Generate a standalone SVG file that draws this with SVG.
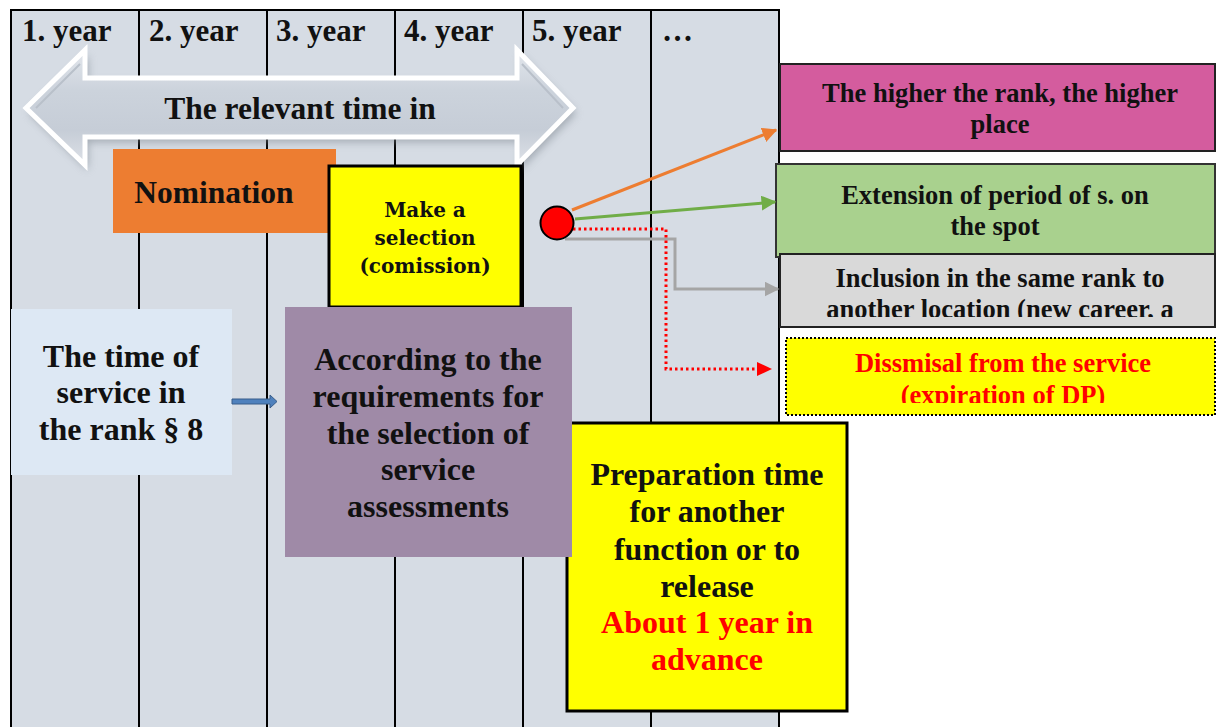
<svg xmlns="http://www.w3.org/2000/svg" width="1216" height="727" viewBox="0 0 1216 727">
  <style>
    .t { font-family: "Liberation Serif", "Times New Roman", serif; font-weight: bold; fill: #111; text-anchor: middle; }
    .hdr { font-family: "Liberation Serif", "Times New Roman", serif; font-weight: bold; font-size: 31px; fill: #111; }
    .big { font-size: 32px; }
    .mid { font-size: 26.5px; }
    .sel { font-family: "DejaVu Serif", "Liberation Serif", serif; font-weight: bold; font-size: 20px; fill: #111; text-anchor: middle; }
    .red { fill: #ff0000; }
    .col { stroke: #000; stroke-width: 2; }
    .conn { fill: none; stroke-width: 3; }
  </style>
  <defs>
    <linearGradient id="arrowFill" x1="0" y1="0" x2="0" y2="1">
      <stop offset="0" stop-color="#e2e6ec"/>
      <stop offset="0.35" stop-color="#ccd3dc"/>
      <stop offset="0.7" stop-color="#c6cdd7"/>
      <stop offset="1" stop-color="#dde1e7"/>
    </linearGradient>
    <filter id="soft" x="-10%" y="-30%" width="120%" height="160%">
      <feGaussianBlur stdDeviation="4"/>
    </filter>
    <marker id="mOrange" viewBox="0 0 10 10" refX="9" refY="5" markerWidth="5" markerHeight="5" orient="auto" markerUnits="strokeWidth">
      <path d="M0,0 L10,5 L0,10 Z" fill="#ed7d31"/>
    </marker>
    <marker id="mGreen" viewBox="0 0 10 10" refX="9" refY="5" markerWidth="5" markerHeight="5" orient="auto" markerUnits="strokeWidth">
      <path d="M0,0 L10,5 L0,10 Z" fill="#70ad47"/>
    </marker>
    <marker id="mGray" viewBox="0 0 10 10" refX="9" refY="5" markerWidth="5" markerHeight="5" orient="auto" markerUnits="strokeWidth">
      <path d="M0,0 L10,5 L0,10 Z" fill="#a5a5a5"/>
    </marker>
    <clipPath id="clipGray"><rect x="779" y="253" width="437" height="64"/></clipPath>
    <clipPath id="clipDis"><rect x="785" y="337" width="431" height="66"/></clipPath>
  </defs>

  <rect width="1216" height="727" fill="#fff"/>

  <!-- year table -->
  <g id="table">
    <rect x="11" y="10" width="768" height="730" fill="#d6dce4"/>
    <line class="col" x1="139" y1="10" x2="139" y2="727"/>
    <line class="col" x1="267" y1="10" x2="267" y2="727"/>
    <line class="col" x1="395" y1="10" x2="395" y2="727"/>
    <line class="col" x1="523" y1="10" x2="523" y2="727"/>
    <line class="col" x1="651" y1="10" x2="651" y2="727"/>
    <path d="M11,727 L11,10 L779,10 L779,727" fill="none" stroke="#000" stroke-width="2"/>
    <text class="hdr" x="22" y="41">1. year</text>
    <text class="hdr" x="149" y="41">2. year</text>
    <text class="hdr" x="276" y="41">3. year</text>
    <text class="hdr" x="404" y="41">4. year</text>
    <text class="hdr" x="532" y="41">5. year</text>
    <text class="hdr" x="662" y="41">…</text>
  </g>

  <!-- double-headed time arrow -->
  <g id="time-arrow">
    <path d="M26,108 L85,50 L85,78 L517,78 L517,50 L573,108 L517,165 L517,137 L85,137 L85,165 Z" transform="translate(3,5)" fill="#7f8791" opacity="0.6" filter="url(#soft)"/>
    <path d="M26,108 L85,50 L85,78 L517,78 L517,50 L573,108 L517,165 L517,137 L85,137 L85,165 Z" fill="url(#arrowFill)" stroke="#fff" stroke-width="5" stroke-linejoin="miter"/>
    <path d="M36,108 L80,64 M522,64 L563,108" fill="none" stroke="#b9c0ca" stroke-width="2"/>
    <text class="t" x="300" y="119" style="font-size:31.5px">The relevant time in</text>
  </g>

  <g id="nomination">
    <rect x="113" y="149" width="223" height="84" fill="#ed7d31"/>
    <text class="t" x="214" y="203" style="font-size:31.5px">Nomination</text>
  </g>

  <g id="make-selection">
    <rect x="329" y="166" width="192" height="141" fill="#ffff00" stroke="#000" stroke-width="3"/>
    <text class="sel" x="425" y="217">Make a</text>
    <text class="sel" x="425" y="245">selection</text>
    <text class="sel" x="425" y="273">(comission)</text>
  </g>

  <g id="time-of-service">
    <rect x="11" y="309" width="221" height="166" fill="#dde8f4"/>
    <text class="t big" x="121" y="367">The time of</text>
    <text class="t big" x="121" y="403">service in</text>
    <text class="t big" x="121" y="440">the rank § 8</text>
  </g>

  <g id="preparation">
    <rect x="567" y="423" width="280" height="288" fill="#ffff00" stroke="#000" stroke-width="3"/>
    <text class="t big" x="707" y="485">Preparation time</text>
    <text class="t big" x="707" y="522">for another</text>
    <text class="t big" x="707" y="560">function or to</text>
    <text class="t big" x="707" y="597">release</text>
    <text class="t big red" x="707" y="633">About 1 year in</text>
    <text class="t big red" x="707" y="670">advance</text>
  </g>

  <g id="requirements">
    <rect x="285" y="307" width="287" height="250" fill="#9f8aa7"/>
    <text class="t big" x="428" y="370">According to the</text>
    <text class="t big" x="428" y="407">requirements for</text>
    <text class="t big" x="428" y="444">the selection of</text>
    <text class="t big" x="428" y="480">service</text>
    <text class="t big" x="428" y="517">assessments</text>
  </g>

  <g id="higher-rank">
    <rect x="780" y="64" width="435" height="87" fill="#d45c9e" stroke="#222" stroke-width="2"/>
    <text class="t mid" x="1000" y="102">The higher the rank, the higher</text>
    <text class="t mid" x="1000" y="133">place</text>
  </g>

  <g id="extension">
    <rect x="776" y="164" width="439" height="93" fill="#a9d18e" stroke="#333" stroke-width="2"/>
    <text class="t mid" x="995" y="204">Extension of period of s. on</text>
    <text class="t mid" x="995" y="235">the spot</text>
  </g>

  <g id="inclusion">
    <rect x="780" y="254" width="435" height="73" fill="#d9d9d9" stroke="#222" stroke-width="2"/>
    <g clip-path="url(#clipGray)">
      <text class="t mid" x="1000" y="287">Inclusion in the same rank to</text>
      <text class="t mid" x="1000" y="318">another location (new career, a</text>
    </g>
  </g>

  <g id="dismissal">
    <rect x="786" y="338" width="429" height="77" fill="#ffff00" stroke="#000" stroke-width="2" stroke-dasharray="2 2"/>
    <g clip-path="url(#clipDis)">
      <text class="t mid red" x="1003" y="372">Dissmisal from the service</text>
      <text class="t mid red" x="1003" y="404">(expiration of DP)</text>
    </g>
  </g>

  <!-- connectors -->
  <g id="connectors">
    <path d="M232,399 L270,399 L270,395 L277,401.5 L270,408 L270,404 L232,404 Z" fill="#4f81bd" stroke="#385d8a" stroke-width="1"/>
    <path class="conn" d="M572,210 L776,130" stroke="#ed7d31" stroke-width="2.5" marker-end="url(#mOrange)"/>
    <path class="conn" d="M575,219 L775,202" stroke="#70ad47" marker-end="url(#mGreen)"/>
    <path class="conn" d="M565,239 L675,239 L675,289 L778,289" stroke="#a5a5a5" marker-end="url(#mGray)"/>
    <path class="conn" d="M573,229 L666,229 L666,369 L760,369" stroke="#ff0000" stroke-width="2.5" stroke-dasharray="2.5 3"/>
    <path d="M757,362 L772,369 L757,376 Z" fill="#ff0000"/>
  </g>

  <g id="decision-point">
    <circle cx="557" cy="223" r="16.5" fill="#ff0000" stroke="#000" stroke-width="2"/>
  </g>
</svg>
